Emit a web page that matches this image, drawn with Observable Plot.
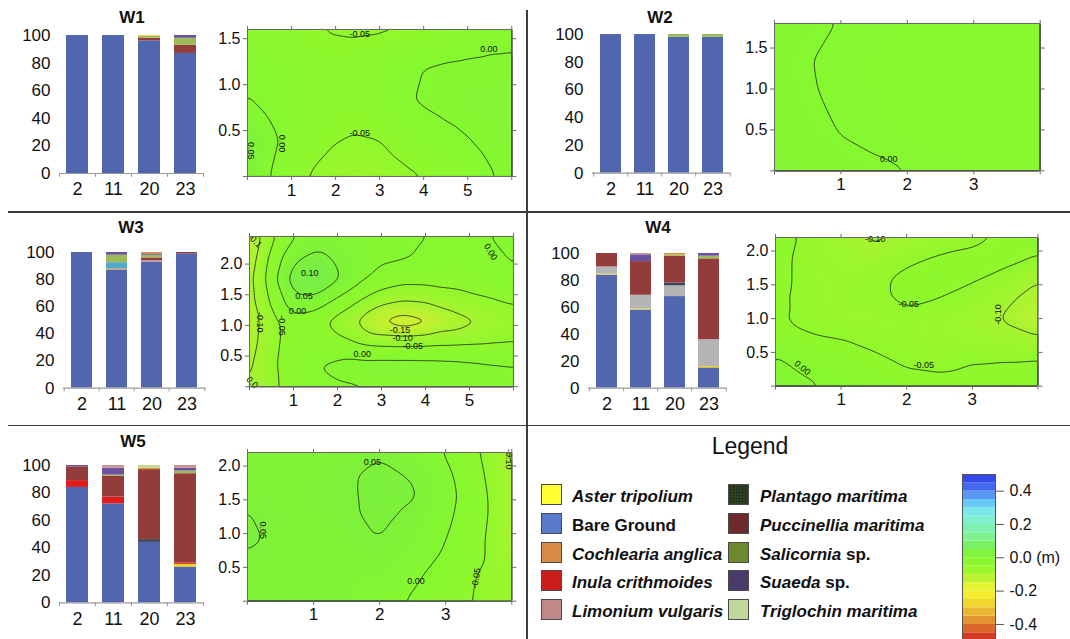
<!DOCTYPE html>
<html><head><meta charset="utf-8">
<script src="https://cdn.jsdelivr.net/npm/d3@7"></script>
<script src="https://cdn.jsdelivr.net/npm/@observablehq/plot@0.6"></script>
<style>
html,body{margin:0;padding:0;background:#fff;}
#root{position:relative;width:1070px;height:639px;overflow:hidden;font-family:"Liberation Sans",Arial,Helvetica,sans-serif;color:#111;}
.title{position:absolute;font-weight:bold;font-size:17px;transform:translate(-50%,-50%);white-space:nowrap;}
.rule{position:absolute;background:#3c3c3c;}
.sw{position:absolute;width:21px;height:21px;border:1px solid #4a4a4a;box-sizing:border-box;}
.lt{position:absolute;font-size:17px;font-weight:bold;white-space:nowrap;line-height:20px;}
</style></head><body><div id="root"></div>
<script>
// ---------------- data ----------------
const distances = ["2", "11", "20", "23"];

const barSpecies = ["Bare Ground","Aster tripolium","Other","Unlisted","Inula crithmoides","Plantago maritima","Limonium vulgaris","Puccinellia maritima","Salicornia sp.","Suaeda sp.","Cochlearia anglica","Triglochin maritima"];
const barColors  = ["#5166ad","#f2d41c","#b4b4b4","#56a8c8","#dd1c1c","#3a4458","#c89494","#923c3c","#9bbb59","#6a52a0","#e88a3a","#c0d890"];

const w1Cover = [["2","Bare Ground",100],["11","Bare Ground",100],
  ["20","Bare Ground",96],["20","Puccinellia maritima",2],["20","Salicornia sp.",1.5],["20","Aster tripolium",0.5],
  ["23","Bare Ground",87],["23","Puccinellia maritima",6],["23","Salicornia sp.",5],["23","Suaeda sp.",2]];
const w2Cover = [["2","Bare Ground",100],["11","Bare Ground",100],
  ["20","Bare Ground",98],["20","Salicornia sp.",2],["23","Bare Ground",98],["23","Salicornia sp.",2]];
const w3Cover = [["2","Bare Ground",100],
  ["11","Bare Ground",87],["11","Cochlearia anglica",0.8],["11","Unlisted",4.7],["11","Salicornia sp.",5.5],["11","Suaeda sp.",2],
  ["20","Bare Ground",93],["20","Limonium vulgaris",1],["20","Puccinellia maritima",2],["20","Salicornia sp.",2],["20","Suaeda sp.",1],["20","Cochlearia anglica",1],
  ["23","Bare Ground",99],["23","Puccinellia maritima",1]];
const w4Cover = [["2","Bare Ground",84],["2","Aster tripolium",0.7],["2","Other",5.3],["2","Puccinellia maritima",10],
  ["11","Bare Ground",58],["11","Aster tripolium",0.7],["11","Other",10.3],["11","Puccinellia maritima",25],["11","Suaeda sp.",5],["11","Limonium vulgaris",1],
  ["20","Bare Ground",68],["20","Other",8],["20","Plantago maritima",2],["20","Puccinellia maritima",20],["20","Salicornia sp.",1],["20","Cochlearia anglica",1],
  ["23","Bare Ground",15],["23","Aster tripolium",1],["23","Other",20],["23","Puccinellia maritima",60],["23","Salicornia sp.",2],["23","Suaeda sp.",2]];
const w5Cover = [["2","Bare Ground",84],["2","Inula crithmoides",5],["2","Puccinellia maritima",10],["2","Suaeda sp.",1],
  ["11","Bare Ground",72],["11","Inula crithmoides",5],["11","Puccinellia maritima",15],["11","Salicornia sp.",1],["11","Suaeda sp.",5],["11","Limonium vulgaris",2],
  ["20","Bare Ground",44],["20","Plantago maritima",2],["20","Puccinellia maritima",51],["20","Cochlearia anglica",1],["20","Triglochin maritima",2],
  ["23","Bare Ground",26],["23","Aster tripolium",2],["23","Inula crithmoides",1],["23","Puccinellia maritima",65],["23","Salicornia sp.",2],["23","Suaeda sp.",2],["23","Limonium vulgaris",2]];

// elevation change grids (m), rows listed from top (max y) to bottom (y = 0)
const w1X = [0,0.5,1,1.5,2,2.5,3,3.5,4,4.5,5,5.5,6];
const w1Y = [1.6,1.2,0.8,0.4,0];
const w1Z = [
  [-0.03,-0.035,-0.04,-0.048,-0.054,-0.056,-0.055,-0.053,-0.051,-0.04,-0.03,-0.02,-0.015],
  [-0.015,-0.02,-0.025,-0.03,-0.03,-0.03,-0.022,-0.008,0.0,0.005,0.008,0.01,0.01],
  [0.005,-0.01,-0.02,-0.03,-0.035,-0.035,-0.025,-0.004,0.003,0.01,0.015,0.015,0.015],
  [0.055,0.015,-0.02,-0.035,-0.048,-0.053,-0.05,-0.035,-0.02,-0.01,-0.001,0.01,0.015],
  [0.05,0.0,-0.035,-0.055,-0.07,-0.075,-0.07,-0.06,-0.05,-0.035,-0.02,-0.003,0.01]];
const w2X = [0,0.5,1,1.5,2,2.5,3,3.5,4];
const w2Y = [1.8,1.35,0.9,0.45,0];
const w2Z = [
  [0.01,0.005,-0.001,-0.005,-0.008,-0.01,-0.01,-0.01,-0.01],
  [0.006,0.001,-0.005,-0.008,-0.01,-0.01,-0.01,-0.01,-0.01],
  [0.008,0.002,-0.003,-0.007,-0.01,-0.01,-0.01,-0.01,-0.01],
  [0.012,0.006,-0.0005,-0.005,-0.008,-0.01,-0.01,-0.01,-0.01],
  [0.015,0.012,0.008,0.004,0.0,-0.004,-0.008,-0.01,-0.01]];
const w3X = [0,0.5,1,1.5,2,2.5,3,3.5,4,4.5,5,5.5,6];
const w3Y = [2.45,2.1,1.75,1.4,1.05,0.7,0.35,0];
const w3Z = [
  [-0.14,-0.06,-0.005,0.02,0.02,0.015,0.01,0.006,0.001,-0.008,-0.01,0.001,0.01],
  [-0.13,-0.035,0.04,0.065,0.04,0.015,0.008,0.004,-0.005,-0.015,-0.018,-0.008,0.003],
  [-0.12,-0.02,0.075,0.105,0.055,0.01,-0.02,-0.035,-0.035,-0.03,-0.025,-0.015,-0.006],
  [-0.12,-0.04,0.03,0.03,-0.01,-0.05,-0.085,-0.10,-0.095,-0.08,-0.065,-0.055,-0.045],
  [-0.125,-0.07,-0.02,-0.035,-0.07,-0.11,-0.16,-0.18,-0.165,-0.13,-0.11,-0.085,-0.07],
  [-0.12,-0.065,-0.025,-0.025,-0.035,-0.05,-0.058,-0.06,-0.058,-0.055,-0.052,-0.05,-0.048],
  [-0.11,-0.06,-0.02,0.0,0.012,0.018,0.02,0.02,0.018,0.015,0.01,0.005,0.002],
  [-0.1,-0.06,-0.03,-0.015,-0.005,-0.003,-0.002,0.0,0.003,0.005,0.005,0.005,0.005]];
const w4X = [0,0.5,1,1.5,2,2.5,3,3.5,4];
const w4Y = [2.2,1.9,1.6,1.3,1.0,0.7,0.4,0];
const w4Z = [
  [-0.03,-0.06,-0.08,-0.11,-0.095,-0.075,-0.06,-0.045,-0.035],
  [-0.035,-0.065,-0.075,-0.08,-0.06,-0.045,-0.04,-0.04,-0.052],
  [-0.035,-0.065,-0.07,-0.06,-0.04,-0.035,-0.045,-0.06,-0.095],
  [-0.04,-0.065,-0.07,-0.06,-0.04,-0.05,-0.065,-0.09,-0.12],
  [-0.045,-0.06,-0.07,-0.07,-0.065,-0.07,-0.08,-0.105,-0.13],
  [-0.035,-0.045,-0.05,-0.058,-0.065,-0.07,-0.075,-0.085,-0.095],
  [0.005,-0.02,-0.035,-0.045,-0.055,-0.058,-0.052,-0.05,-0.048],
  [0.03,0.008,-0.015,-0.03,-0.04,-0.042,-0.04,-0.04,-0.04]];
const w5X = [0,0.5,1,1.5,2,2.5,3,3.5,3.75,4];
const w5Y = [2.2,1.9,1.6,1.3,1.0,0.7,0.4,0];
const w5Z = [
  [0.035,0.035,0.035,0.04,0.045,0.03,-0.003,-0.048,-0.075,-0.11],
  [0.035,0.035,0.038,0.045,0.058,0.045,0.01,-0.04,-0.07,-0.105],
  [0.038,0.038,0.04,0.045,0.06,0.055,0.015,-0.03,-0.068,-0.1],
  [0.051,0.042,0.04,0.045,0.058,0.045,0.01,-0.03,-0.065,-0.1],
  [0.06,0.035,0.037,0.042,0.052,0.035,0.003,-0.035,-0.07,-0.11],
  [0.048,0.035,0.035,0.037,0.04,0.025,-0.005,-0.04,-0.065,-0.09],
  [0.04,0.035,0.033,0.033,0.03,0.01,-0.02,-0.052,-0.065,-0.08],
  [0.035,0.033,0.03,0.03,0.015,-0.005,-0.03,-0.055,-0.065,-0.075]];

// contour labels (data units)
const w1Labels = [{x:2.55,y:1.55,text:"-0.05",rotate:0},{x:5.48,y:1.39,text:"0.00",rotate:0},{x:2.55,y:0.47,text:"-0.05",rotate:0},{x:0.79,y:0.36,text:"0.00",rotate:90},{x:0.08,y:0.28,text:"0.05",rotate:90}];
const w2Labels = [{x:1.72,y:0.14,text:"0.00",rotate:0}];
const w3Labels = [{x:1.37,y:1.85,text:"0.10",rotate:0},{x:1.24,y:1.47,text:"0.05",rotate:0},{x:1.09,y:1.24,text:"0.00",rotate:0},
  {x:0.24,y:1.05,text:"-0.10",rotate:90},{x:0.73,y:1.0,text:"-0.05",rotate:90},{x:3.42,y:0.93,text:"-0.15",rotate:0},
  {x:3.48,y:0.8,text:"-0.10",rotate:0},{x:3.71,y:0.67,text:"-0.05",rotate:0},{x:2.56,y:0.53,text:"0.00",rotate:0},
  {x:5.48,y:2.2,text:"0.00",rotate:60},{x:0.12,y:2.38,text:"-0.1",rotate:45},{x:0.06,y:0.07,text:"0.0",rotate:45}];
const w4Labels = [{x:1.52,y:2.17,text:"-0.10",rotate:0},{x:2.03,y:1.21,text:"-0.05",rotate:0},{x:3.4,y:1.06,text:"-0.10",rotate:-90},
  {x:2.26,y:0.31,text:"-0.05",rotate:0},{x:0.41,y:0.27,text:"0.00",rotate:40}];
const w5Labels = [{x:1.89,y:2.06,text:"0.05",rotate:0},{x:0.23,y:1.05,text:"0.05",rotate:90},{x:2.55,y:0.29,text:"0.00",rotate:0},
  {x:3.46,y:0.34,text:"-0.05",rotate:-80},{x:3.95,y:2.1,text:"-0.10",rotate:90}];

const legendSpecies = ["Aster tripolium","Bare Ground","Cochlearia anglica","Inula crithmoides","Limonium vulgaris","Plantago maritima","Puccinellia maritima","Salicornia sp.","Suaeda sp.","Triglochin maritima"];
const legendColors  = ["#ffff33","#5a7acc","#d88c48","#cc1c1c","#c08888","#2e3e22","#6e2a2a","#6b8a30","#4a3a6a","#c0d898"];

const cbBands = [-0.5,-0.45,-0.4,-0.35,-0.3,-0.25,-0.2,-0.15,-0.1,-0.05,0,0.05,0.1,0.15,0.2,0.25,0.3,0.35,0.4,0.45];
const cbTicks = [-0.4,-0.2,0,0.2,0.4];
const levels = [-0.15,-0.1,-0.05,0,0.05,0.1];

// elevation colour scales (colour-bar bands, and the smoother map rendering)
const colorStops = [-0.55,-0.5,-0.45,-0.4,-0.35,-0.3,-0.25,-0.2,-0.15,-0.1,-0.05,0,0.05,0.1,0.15,0.2,0.25,0.3,0.35,0.4,0.45,0.5];
const cbColors  = ["#d01818","#d02420","#d65028","#de8030","#e6a830","#eec830","#f6e430","#f6f630","#d0f030","#a8f430","#90f82c","#86f832","#7cf048","#7cf080","#80f0a0","#80f0c0","#80f0e0","#70e0f8","#60b0f4","#5080f0","#3a50f0","#3040f0"];
const mapColors = ["#d02020","#d44020","#d86828","#e09030","#e8b030","#f0d030","#f8f030","#e8f030","#c8f030","#a6f430","#90f82c","#86f830","#7ef23a","#74ee4c","#78f078","#80f0b0","#80f0e0","#70e0f8","#60b0f4","#5080f0","#3a50f0","#3040f0"];
const cbScale  = {type: "linear", domain: colorStops, range: cbColors, interpolate: "rgb", clamp: true};
const mapScale = {type: "linear", domain: colorStops, range: mapColors, interpolate: "rgb", clamp: true};

// ---------------- layout helpers ----------------
const FONT = '"Liberation Sans", Arial, Helvetica, sans-serif';
const root = document.getElementById("root");
const plotStyle = {background: "transparent", fontFamily: FONT, overflow: "visible", color: "#111"};
function place(node, left, top) {
  node.style.position = "absolute"; node.style.left = left + "px"; node.style.top = top + "px";
  root.appendChild(node); return node;
}
function addDiv(cls, left, top, w, h, html) {
  const d = document.createElement("div"); d.className = cls;
  d.style.left = left + "px"; d.style.top = top + "px";
  if (w != null) d.style.width = w + "px"; if (h != null) d.style.height = h + "px";
  if (html != null) d.innerHTML = html;
  root.appendChild(d); return d;
}

function barPanel(rows, box) {
  const [x0, x1, yt, yb] = box;
  const mL = 55, mR = 12, mT = 10, mB = 34;
  const data = rows.map(([dist, species, pct]) => ({dist, species, pct}));
  const step = (x1 - x0) / distances.length;
  const svg = Plot.plot({
    width: x1 - x0 + mL + mR, height: yb - yt + mT + mB,
    marginLeft: mL, marginRight: mR, marginTop: mT, marginBottom: mB,
    style: plotStyle,
    x: {domain: distances, paddingInner: 0.39, paddingOuter: 0.195},
    y: {domain: [0, 100]},
    color: {domain: barSpecies, range: barColors},
    marks: [
      Plot.barY(data, {x: "dist", y: "pct", fill: "species"}),
      Plot.ruleY([0], {stroke: "#9a9a9a", strokeWidth: 1.2}),
      Plot.ruleX(distances, {x: d => d, dx: -step / 2, y1: 0, y2: -2.8, stroke: "#9a9a9a"}),
      Plot.ruleX(distances.slice(-1), {x: d => d, dx: step / 2, y1: 0, y2: -2.8, stroke: "#9a9a9a"}),
      Plot.axisX({tickSize: 0, tickPadding: 9, fontSize: 18, label: null}),
      Plot.axisY({ticks: [0, 20, 40, 60, 80, 100], tickSize: 0, tickPadding: 9, fontSize: 17, label: null})
    ]
  });
  place(svg, x0 - mL, yt - mT);
}

function mapPanel(X, Y, Z, labels, xMax, yMax, xTicks, yTicks, box) {
  const [x0, x1, yt, yb] = box;
  const mL = 45, mR = 14, mT = 12, mB = 30;
  const pts = Y.flatMap((y, j) => X.map((x, i) => ({x, y, v: Z[j][i]})));
  const ext = {x1: 0, y1: 0, x2: xMax, y2: yMax};
  const inner = d => d > 0 && d < xMax;
  const svg = Plot.plot({
    width: x1 - x0 + mL + mR, height: yb - yt + mT + mB,
    marginLeft: mL, marginRight: mR, marginTop: mT, marginBottom: mB,
    style: plotStyle,
    x: {domain: [0, xMax]}, y: {domain: [0, yMax]},
    color: mapScale,
    marks: [
      Plot.raster(pts, {x: "x", y: "y", fill: "v", interpolate: "barycentric", pixelSize: 1, blur: 4, ...ext}),
      Plot.contour(pts, {x: "x", y: "y", value: "v", interpolate: "barycentric", blur: 2, thresholds: levels, ...ext, stroke: "#1e1e1e", strokeWidth: 0.8, fill: "none"}),
      Plot.text(labels, {x: "x", y: "y", text: "text", rotate: "rotate", fontSize: 9, fill: "#111"}),
      Plot.frame({stroke: "#6a6a6a"}),
      Plot.axisX({anchor: "bottom", ticks: xTicks, tickSize: 4, tickPadding: 3, fontSize: 17, stroke: "#6a6a6a", label: null, tickFormat: d => inner(d) ? String(d) : ""}),
      Plot.axisX({anchor: "top", ticks: xTicks, tickSize: 4, stroke: "#6a6a6a", label: null, tickFormat: () => ""}),
      Plot.axisY({anchor: "left", ticks: yTicks, tickSize: 4, tickPadding: 3, fontSize: 16, stroke: "#6a6a6a", label: null, tickFormat: d => d > 0 ? d.toFixed(1) : ""}),
      Plot.axisY({anchor: "right", ticks: yTicks, tickSize: 4, stroke: "#6a6a6a", label: null, tickFormat: () => ""})
    ]
  });
  place(svg, x0 - mL, yt - mT);
}

// ---------------- dividers ----------------
addDiv("rule", 526, 10, 1.5, 629);
addDiv("rule", 8, 211, 1062, 1.5);
addDiv("rule", 8, 424.5, 1062, 1.5);

// ---------------- panels ----------------
const x6 = [0,1,2,3,4,5,6], x4 = [0,1,2,3,4];
barPanel(w1Cover, [59, 203, 34.7, 172.7]);
mapPanel(w1X, w1Y, w1Z, w1Labels, 6, 1.6, x6, [0,0.5,1,1.5], [246.7, 511, 29.3, 176.3]);
barPanel(w2Cover, [591.7, 730, 34, 172.7]);
mapPanel(w2X, w2Y, w2Z, w2Labels, 4, 1.8, x4, [0,0.5,1,1.5], [774.3, 1040, 22.7, 170]);
barPanel(w3Cover, [63, 205.7, 251.7, 387.3]);
mapPanel(w3X, w3Y, w3Z, w3Labels, 6, 2.45, x6, [0,0.5,1,1.5,2], [249.3, 513.3, 235.7, 385.9]);
barPanel(w4Cover, [588, 726.8, 252.7, 387.3]);
mapPanel(w4X, w4Y, w4Z, w4Labels, 4, 2.2, x4, [0,0.5,1,1.5,2], [775.3, 1037.7, 237.3, 386]);
barPanel(w5Cover, [59.3, 204, 465, 602.3]);
mapPanel(w5X, w5Y, w5Z, w5Labels, 4, 2.2, x4, [0,0.5,1,1.5,2], [246.7, 511, 452.3, 601]);

// titles
[["W1",132,18],["W2",660,18],["W3",131,228],["W4",658,228],["W5",133,442]].forEach(([t,x,y]) => addDiv("title", x, y, null, null, t));

// ---------------- legend ----------------
const lg = addDiv("", 700, 433, 100, 26, "Legend");
lg.style.position = "absolute"; lg.style.fontSize = "23px"; lg.style.textAlign = "center"; lg.style.lineHeight = "26px";
function speciesHTML(name) {
  if (name === "Bare Ground") return name;
  if (name.endsWith(" sp.")) return "<i>" + name.slice(0, -4) + "</i> sp.";
  return "<i>" + name + "</i>";
}
const rowTops = [484, 513, 541.5, 570, 599];
legendSpecies.forEach((name, i) => {
  const col = i < 5 ? 0 : 1, r = i % 5;
  const sx = col === 0 ? 541 : 728, tx = col === 0 ? 572 : 760;
  const sw = addDiv("sw", sx, rowTops[r], null, null, null);
  sw.style.background = legendColors[i];
  if (name === "Plantago maritima") {
    sw.style.backgroundImage = "radial-gradient(#141c0c 35%, transparent 40%)";
    sw.style.backgroundSize = "3px 3px";
  }
  addDiv("lt", tx, rowTops[r] + 3, null, null, speciesHTML(name));
});

// colour bar
const cb = Plot.plot({
  width: 115, height: 175, marginLeft: 7, marginRight: 75, marginTop: 4, marginBottom: 4.4,
  style: plotStyle,
  x: {domain: [0, 1], axis: null}, y: {domain: [-0.5, 0.5]},
  color: cbScale,
  marks: [
    Plot.rect(cbBands, {x1: 0, x2: 1, y1: d => d, y2: d => d + 0.05, fill: d => d + 0.025}),
    Plot.frame({stroke: "#555"}),
    Plot.axisY({anchor: "right", ticks: cbTicks, tickSize: 8, tickPadding: 6, fontSize: 16, stroke: "#555", label: null,
      tickFormat: d => Math.abs(d) < 1e-9 ? "0.0 (m)" : d.toFixed(1)})
  ]
});
place(cb, 955, 470);
</script></body></html>
